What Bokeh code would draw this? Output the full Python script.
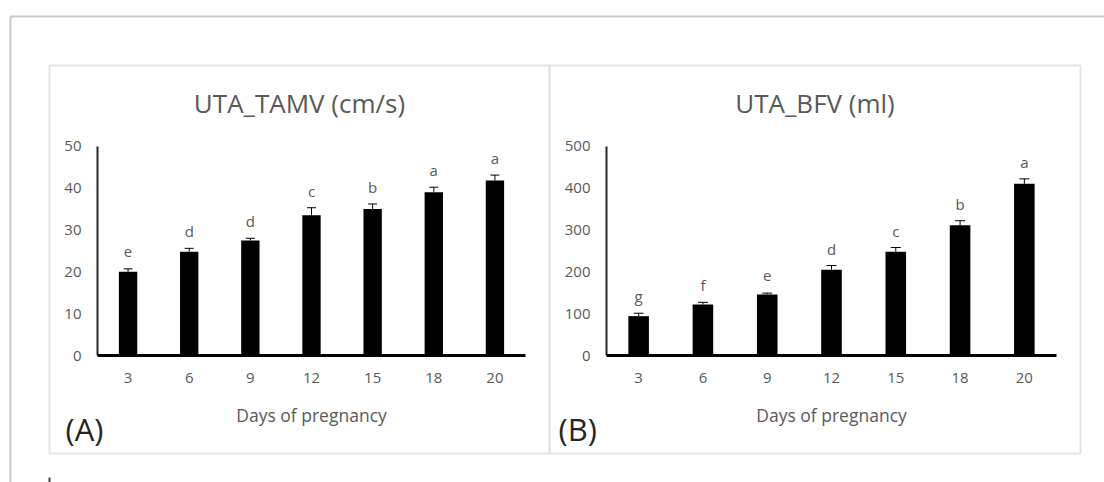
from bokeh.plotting import figure
from bokeh.models import Range1d, LinearAxis, FixedTicker, ColumnDataSource
from bokeh.core.properties import value
from bokeh.embed import file_html
from bokeh.resources import INLINE

# ---------------- data ----------------
days = ["3", "6", "9", "12", "15", "18", "20"]
tamv = [20.0, 24.8, 27.5, 33.5, 35.0, 39.0, 41.8]
tamv_err = [0.7, 0.8, 0.5, 1.8, 1.2, 1.2, 1.3]
tamv_letters = ["e", "d", "d", "c", "b", "a", "a"]
bfv = [94, 122, 146, 205, 248, 311, 410]
bfv_err = [7, 5, 3, 10, 10, 11, 12]
bfv_letters = ["g", "f", "e", "d", "c", "b", "a"]
ticks_a = [0, 10, 20, 30, 40, 50]
ticks_b = [0, 100, 200, 300, 400, 500]
title_a = "UTA_TAMV (cm/s)"
title_b = "UTA_BFV (ml)"
xlabel = "Days of pregnancy"
tag_a = "(A)"
tag_b = "(B)"

# ---------------- layout ----------------
W, H = 1104, 482
OX, OY = 0, 0
FONT = value("Open Sans")
GREY = "#595959"

p = figure(width=W, height=H, x_range=Range1d(OX, OX + W), y_range=Range1d(OY + H, OY),
           x_axis_type=None, y_axis_type=None, toolbar_location=None,
           output_backend="svg", min_border=0, outline_line_color=None,
           background_fill_color="white", border_fill_color="white")

# decorative frames (image pixel coordinates)
p.segment(x0=[10, 10], y0=[16, 16], x1=[OX + W, 10], y1=[16, OY + H],
          line_color="#c8c8c8", line_width=2)
p.quad(left=[49, 549], right=[549, 1080], top=[65, 65], bottom=[453, 453],
       fill_color=None, line_color="#e4e4e4", line_width=2)
p.segment(x0=[49], y0=[477], x1=[49], y1=[OY + H], line_color="#404040", line_width=2)


def panel(name, ax0, ax1, ytop_px, ybot_px, ticks, vals, errs, letters, bar_w, cap,
          box_l, box_r, title, tag, tag_x):
    n = len(days)
    unit = (ax1 - ax0) / n
    vmax = ticks[-1]
    k = (ybot_px - ytop_px) / vmax
    xr, yr = "x" + name, "y" + name
    p.extra_x_ranges[xr] = Range1d((OX - ax0) / unit - 0.5, (OX + W - ax0) / unit - 0.5)
    p.extra_y_ranges[yr] = Range1d((ybot_px - (OY + H)) / k, (ybot_px - OY) / k)

    idx = list(range(n))
    tops = [v + e for v, e in zip(vals, errs)]
    src = ColumnDataSource(dict(x=idx, v=vals, t=tops, lab=letters))

    p.vbar(x="x", top="v", bottom=0, width=bar_w, source=src, fill_color="black",
           line_color=None, x_range_name=xr, y_range_name=yr)
    p.segment(x0="x", y0="v", x1="x", y1="t", source=src, line_color="black",
              line_width=1, x_range_name=xr, y_range_name=yr)
    p.scatter(x="x", y="t", marker="dash", size=cap, source=src, line_color="black",
              line_width=1, x_range_name=xr, y_range_name=yr)
    p.text(x="x", y="t", text="lab", source=src, text_align="center",
           text_baseline="middle", y_offset=-17, text_font=FONT, text_font_size="15px",
           text_color=GREY, x_range_name=xr, y_range_name=yr)

    xa = LinearAxis(x_range_name=xr, y_range_name=yr, fixed_location=0,
                    bounds=(-0.5, n - 0.5), ticker=FixedTicker(ticks=idx),
                    major_label_overrides={i: d for i, d in enumerate(days)})
    ya = LinearAxis(x_range_name=xr, y_range_name=yr, fixed_location=-0.5,
                    bounds=(0, vmax), ticker=FixedTicker(ticks=ticks))
    for ax in (xa, ya):
        ax.major_tick_line_color = None
        ax.minor_tick_line_color = None
        ax.major_tick_out = 0
        ax.major_tick_in = 0
        ax.minor_tick_out = 0
        ax.major_label_text_font = "Open Sans"
        ax.major_label_text_font_size = "15px"
        ax.major_label_text_color = GREY
    xa.axis_line_color = "black"
    xa.axis_line_width = 3
    xa.major_label_standoff = 17
    ya.axis_line_color = "#262626"
    ya.axis_line_width = 2
    ya.major_label_standoff = 16
    p.add_layout(xa, "below")
    p.add_layout(ya, "left")

    # titles and labels
    p.text(x=[(box_l + box_r) / 2], y=[102], text=[title], text_align="center",
           text_baseline="middle", text_font=FONT, text_font_size="26px", text_color=GREY)
    p.text(x=[(n - 1) / 2], y=[414], text=[xlabel], text_align="center",
           text_baseline="middle", text_font=FONT, text_font_size="17.5px",
           text_color=GREY, x_range_name=xr)
    p.text(x=[tag_x], y=[428], text=[tag], text_align="left", text_baseline="middle",
           text_font=FONT, text_font_size="31px", text_color="#262626")


panel("a", 97, 525, 145.7, 355, ticks_a, tamv, tamv_err, tamv_letters, 0.30, 9,
      49, 549, title_a, tag_a, 65)
panel("b", 606, 1056, 145.7, 355, ticks_b, bfv, bfv_err, bfv_letters, 0.32, 10,
      549, 1080, title_b, tag_b, 558)

open("out.html", "w").write(file_html(p, INLINE))
